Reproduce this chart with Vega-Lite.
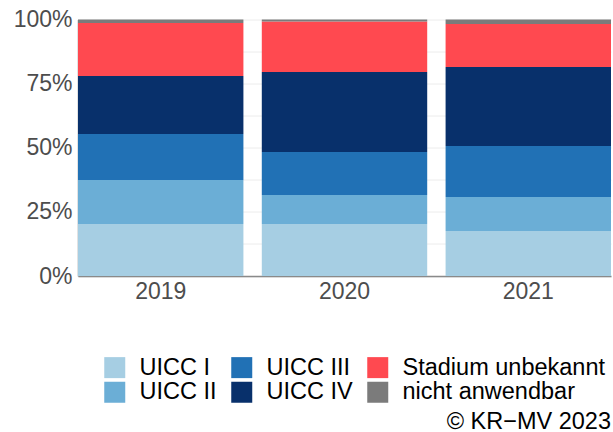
{
  "$schema": "https://vega.github.io/schema/vega-lite/v6.json",
  "width": 533,
  "height": 256.5,
  "autosize": "none",
  "padding": {"left": 78, "top": 19.5, "right": 2, "bottom": 156},
  "config": {"view": {"stroke": null}, "font": "Liberation Sans"},
  "title": {"text": "© KR−MV 2023", "orient": "bottom", "anchor": "end", "fontSize": 23.5, "fontWeight": "normal", "color": "#000000", "offset": 5},
  "data": {"values": [
    {"jahr": "2019", "stadium": "UICC I", "anteil": 20.3},
    {"jahr": "2019", "stadium": "UICC II", "anteil": 17.1},
    {"jahr": "2019", "stadium": "UICC III", "anteil": 18.0},
    {"jahr": "2019", "stadium": "UICC IV", "anteil": 22.6},
    {"jahr": "2019", "stadium": "Stadium unbekannt", "anteil": 20.6},
    {"jahr": "2019", "stadium": "nicht anwendbar", "anteil": 1.4},
    {"jahr": "2020", "stadium": "UICC I", "anteil": 20.3},
    {"jahr": "2020", "stadium": "UICC II", "anteil": 11.3},
    {"jahr": "2020", "stadium": "UICC III", "anteil": 16.7},
    {"jahr": "2020", "stadium": "UICC IV", "anteil": 31.2},
    {"jahr": "2020", "stadium": "Stadium unbekannt", "anteil": 19.7},
    {"jahr": "2020", "stadium": "nicht anwendbar", "anteil": 0.8},
    {"jahr": "2021", "stadium": "UICC I", "anteil": 17.5},
    {"jahr": "2021", "stadium": "UICC II", "anteil": 13.3},
    {"jahr": "2021", "stadium": "UICC III", "anteil": 19.9},
    {"jahr": "2021", "stadium": "UICC IV", "anteil": 30.8},
    {"jahr": "2021", "stadium": "Stadium unbekannt", "anteil": 16.7},
    {"jahr": "2021", "stadium": "nicht anwendbar", "anteil": 1.8}
  ]},
  "transform": [
    {"calculate": "indexof(['UICC I','UICC II','UICC III','UICC IV','Stadium unbekannt','nicht anwendbar'], datum.stadium)", "as": "ord"}
  ],
  "mark": {"type": "bar"},
  "encoding": {
    "x": {
      "field": "jahr", "type": "nominal", "title": null,
      "scale": {"paddingInner": 0.1, "paddingOuter": 0},
      "axis": {"labelAngle": 0, "ticks": false, "grid": false, "domainColor": "#8a8a8a", "domainWidth": 1.5, "labelFontSize": 23, "labelColor": "#4d4d4d", "labelPadding": 4}
    },
    "y": {
      "field": "anteil", "type": "quantitative", "stack": "normalize", "title": null,
      "scale": {"domain": [0, 1], "nice": false, "zero": true},
      "axis": {
        "values": [0, 0.125, 0.25, 0.375, 0.5, 0.625, 0.75, 0.875, 1],
        "labelExpr": "(round(datum.value * 1000) % 250 == 0) ? format(datum.value, '.0%') : ''",
        "ticks": false, "grid": true, "gridColor": "#ececec", "gridWidth": 1,
        "domainColor": "#8a8a8a", "domainWidth": 1.5,
        "labelFontSize": 23, "labelColor": "#4d4d4d", "labelPadding": 6
      }
    },
    "color": {
      "field": "stadium", "type": "nominal",
      "scale": {
        "domain": ["UICC I", "UICC III", "Stadium unbekannt", "UICC II", "UICC IV", "nicht anwendbar"],
        "range": ["#a6cee3", "#2171b5", "#ff4950", "#6baed6", "#08306b", "#7b7b7b"]
      },
      "legend": {
        "title": null, "orient": "none", "legendX": 25, "legendY": 336,
        "columns": 3, "direction": "horizontal",
        "symbolType": "square", "symbolSize": 441, "symbolStrokeWidth": 0,
        "labelFontSize": 23.5, "labelColor": "#000000", "labelOffset": 13,
        "columnPadding": 13, "rowPadding": 0, "padding": 0, "labelLimit": 400
      }
    },
    "order": {"field": "ord", "type": "quantitative"}
  }
}
